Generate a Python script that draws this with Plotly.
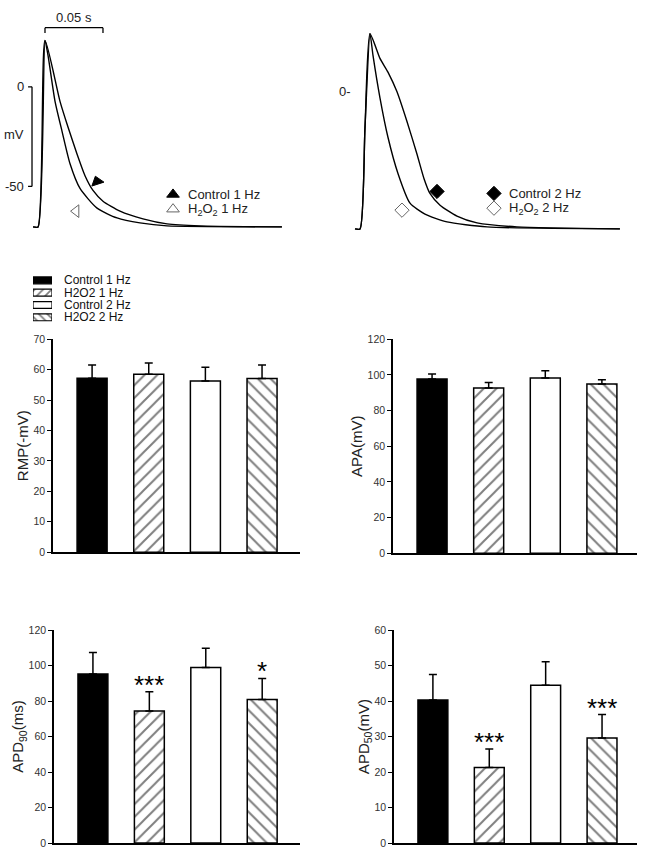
import plotly.graph_objects as go

W, H = 646, 855
FONT = "Arial, Liberation Sans, sans-serif"

# ---- action potential traces (t in ms, V in mV) ----
t_ctrl_1hz = [-4.3, 0, 6, 19, 25.9, 33.6, 40.5, 47.4, 56, 70.7, 90.5, 111.2, 139.7, 210.3]
v_ctrl_1hz = [-70.3, -70.3, 23.3, -7.4, -20.3, -33.7, -44.6, -52, -57.4, -62.4, -66.3, -68.8, -69.8, -70.3]
t_h2o2_1hz = [-4.3, 0, 6, 8.6, 14.7, 20.7, 27.6, 36.2, 50.9, 68.1, 87.9, 111.2, 210.3]
v_h2o2_1hz = [-70.3, -70.3, 23.3, 15.8, -7.4, -22.3, -38.6, -51, -60.9, -65.8, -68.3, -69.8, -70.3]

t_ctrl_2hz = [-4.3, 0, 4.3, 8.6, 17.2, 24.1, 31.9, 40.5, 49.1, 55.2, 60.3, 69, 83.6, 100.9, 135.3, 224.1]
v_ctrl_2hz = [-68.8, -68.8, -17.8, 29.2, 16.8, 9.9, 0, -14.9, -31.2, -43.6, -51, -56.9, -62.4, -65.8, -67.8, -68.8]
t_h2o2_2hz = [-4.3, 0, 4.3, 8.6, 11.2, 17.2, 24.1, 32.8, 43.1, 56, 75, 109.5, 224.1]
v_h2o2_2hz = [-68.8, -68.8, -17.8, 29.2, 18.3, -3, -22.8, -41.1, -55.9, -61.4, -65.3, -67.8, -68.8]

# ---- bar data: mean and SEM ----
groups = ["Control 1 Hz", "H2O2 1 Hz", "Control 2 Hz", "H2O2 2 Hz"]
rmp_mean = [57.2, 58.5, 56.3, 57.1]
rmp_sem = [4.3, 3.7, 4.5, 4.4]
apa_mean = [97.7, 92.7, 98.3, 94.9]
apa_sem = [2.8, 3.1, 4.0, 2.4]
apd90_mean = [95.3, 74.4, 98.9, 80.9]
apd90_sem = [12.1, 10.9, 10.9, 11.9]
apd50_mean = [40.3, 21.3, 44.5, 29.6]
apd50_sem = [7.2, 5.2, 6.6, 6.6]
apd90_stars = ["", "***", "", "*"]
apd50_stars = ["", "***", "", "***"]


def fx(p):
    return p / W


def fy(p):
    return 1 - p / H


fig = go.Figure()

# traces
line = dict(color="black", width=1.4, shape="spline", smoothing=0.6)
for t, v, ax in [(t_ctrl_1hz, v_ctrl_1hz, ("x", "y")), (t_h2o2_1hz, v_h2o2_1hz, ("x", "y")),
                 (t_ctrl_2hz, v_ctrl_2hz, ("x2", "y2")), (t_h2o2_2hz, v_h2o2_2hz, ("x2", "y2"))]:
    fig.add_trace(go.Scatter(x=t, y=v, mode="lines", line=line, xaxis=ax[0], yaxis=ax[1],
                             showlegend=False, hoverinfo="skip"))

# markers on curves + little legends
mk = [
    # x, y, symbol, color, angle, axis, label
    (50.9, -47.5, "triangle-up", "black", -18, ("x", "y"), None),
    (32.8, -62.4, "triangle-left-open", "#666", 0, ("x", "y"), None),
    (116.4, -54.0, "triangle-up", "black", 0, ("x", "y"), "Control 1 Hz"),
    (116.4, -61.4, "triangle-up-open", "#666", 0, ("x", "y"), "H<sub>2</sub>O<sub>2</sub> 1 Hz"),
    (66.4, -50.0, "diamond", "black", 0, ("x2", "y2"), None),
    (36.2, -59.4, "diamond-open", "#666", 0, ("x2", "y2"), None),
    (115.5, -51.0, "diamond", "black", 0, ("x2", "y2"), "Control 2 Hz"),
    (115.5, -58.4, "diamond-open", "#666", 0, ("x2", "y2"), "H<sub>2</sub>O<sub>2</sub> 2 Hz"),
]
for x, y, sym, col, ang, ax, lab in mk:
    fig.add_trace(go.Scatter(x=[x], y=[y], mode="markers", xaxis=ax[0], yaxis=ax[1],
                             marker=dict(symbol=sym, size=11, color=col, angle=ang, line=dict(width=1, color=col)),
                             showlegend=False, hoverinfo="skip"))
    if lab:
        fig.add_annotation(x=x + 11.2, y=y, xref=ax[0], yref=ax[1], text=lab, showarrow=False,
                           xanchor="left", font=dict(size=13, color="#222", family=FONT))

# scale bars (left panel)
shp = dict(type="line", xref="x", yref="y", line=dict(color="black", width=1.3))
fig.add_shape(x0=6, x1=56, y0=29.7, y1=29.7, **shp)
fig.add_shape(x0=6, x1=6, y0=29.7, y1=27.0, **shp)
fig.add_shape(x0=56, x1=56, y0=29.7, y1=27.0, **shp)
fig.add_shape(x0=-5.2, x1=-5.2, y0=0, y1=-50, **shp)
fig.add_shape(x0=-8.6, x1=-5.2, y0=0, y1=0, **shp)
fig.add_shape(x0=-8.6, x1=-5.2, y0=-50, y1=-50, **shp)
txt = dict(showarrow=False, font=dict(size=13, color="#222", family=FONT))
fig.add_annotation(x=31, y=29.7, xref="x", yref="y", text="0.05 s", yanchor="bottom", yshift=1, **txt)
fig.add_annotation(x=-10, y=0, xref="x", yref="y", text="0", xanchor="right", **txt)
fig.add_annotation(x=-10, y=-50, xref="x", yref="y", text="-50", xanchor="right", **txt)
fig.add_annotation(x=-10, y=-23.8, xref="x", yref="y", text="mV", xanchor="right", **txt)
fig.add_annotation(x=-6, y=0, xref="x2", yref="y2", text="0-", xanchor="right", **txt)

# bar panels
styles = [
    dict(color="black", pattern=dict(shape="")),
    dict(color="white", pattern=dict(shape="/", fgcolor="black", bgcolor="white", size=9, solidity=0.22)),
    dict(color="white", pattern=dict(shape="")),
    dict(color="white", pattern=dict(shape="\\", fgcolor="black", bgcolor="white", size=9, solidity=0.22)),
]
panels = [
    (rmp_mean, rmp_sem, "x3", "y3", None),
    (apa_mean, apa_sem, "x4", "y4", None),
    (apd90_mean, apd90_sem, "x5", "y5", apd90_stars),
    (apd50_mean, apd50_sem, "x6", "y6", apd50_stars),
]
for mean, sem, xa, ya, stars in panels:
    for i, g in enumerate(groups):
        st = styles[i]
        fig.add_trace(go.Bar(
            x=[g], y=[mean[i]], xaxis=xa, yaxis=ya, width=0.53, name=g, showlegend=False,
            marker=dict(color=st["color"], pattern=st["pattern"], line=dict(color="black", width=1.5)),
            error_y=dict(type="data", array=[sem[i]], arrayminus=[0], symmetric=False,
                         color="black", thickness=1.5, width=4),
        ))
        if stars and stars[i]:
            fig.add_annotation(x=g, y=mean[i] + sem[i], xref=xa, yref=ya, text=stars[i],
                               showarrow=False, yanchor="bottom", yshift=-10,
                               font=dict(size=26, color="black", family=FONT))

# legend key for the bar panels (small swatches on a hidden axis)
for i, g in enumerate(groups):
    st = styles[i]
    pat = dict(st["pattern"])
    if pat["shape"]:
        pat.update(size=6, solidity=0.3)
    fig.add_trace(go.Bar(
        x=[1], y=[g], orientation="h", xaxis="x7", yaxis="y7", width=0.56, showlegend=False,
        marker=dict(color=st["color"], pattern=pat, line=dict(color="black", width=1.2)),
        hoverinfo="skip",
    ))
    fig.add_annotation(x=fx(62), y=g, xref="paper", yref="y7", text=g, showarrow=False,
                       xanchor="left", font=dict(size=12, color="#111", family=FONT))

hidden = dict(visible=False, fixedrange=True)
fig.update_layout(
    width=W, height=H, margin=dict(l=0, r=0, t=0, b=0),
    paper_bgcolor="white", plot_bgcolor="white",
    barmode="overlay", font=dict(family=FONT, color="#222"), showlegend=False,
    xaxis=dict(domain=[0, fx(300)], range=[-32.8, 225.9], **hidden),
    yaxis=dict(domain=[fy(240), 1], range=[-78.2, 40.6], **hidden),
    xaxis2=dict(domain=[fx(320), 1], range=[-34.5, 246.6], **hidden),
    yaxis2=dict(domain=[fy(240), 1], range=[-75.7, 43.1], **hidden),
    xaxis7=dict(domain=[fx(33), fx(52)], range=[0, 1], anchor="y7", **hidden),
    yaxis7=dict(domain=[fy(322), fy(272)], type="category", categoryarray=groups, range=[3.5, -0.5],
                anchor="x7", **hidden),
)

xbar = dict(type="category", showline=True, linecolor="black", linewidth=1.5, ticks="",
            showticklabels=False, showgrid=False, zeroline=False, fixedrange=True)
ybar = dict(showline=True, linecolor="black", linewidth=1.5, ticks="outside", ticklen=4,
            tickwidth=1, tickcolor="black", showgrid=False, zeroline=False,
            tickfont=dict(size=10.5, color="#333", family=FONT),
            title_font=dict(size=15, color="#222", family=FONT), title_standoff=1, fixedrange=True)

fig.update_layout(
    xaxis3=dict(domain=[fx(53), fx(300)], range=[-0.69, 3.67], anchor="y3", **xbar),
    yaxis3=dict(domain=[fy(554), fy(338)], range=[0, 70], dtick=10, anchor="x3", title_text="RMP(-mV)", **ybar),
    xaxis4=dict(domain=[fx(393), fx(637)], range=[-0.69, 3.62], anchor="y4", **xbar),
    yaxis4=dict(domain=[fy(555), fy(338)], range=[0, 120], dtick=20, anchor="x4", title_text="APA(mV)", **ybar),
    xaxis5=dict(domain=[fx(54), fx(300)], range=[-0.69, 3.67], anchor="y5", **xbar),
    yaxis5=dict(domain=[fy(849), fy(633)], range=[0, 120], dtick=20, anchor="x5",
                title_text="APD<sub>90</sub>(ms)", **ybar),
    xaxis6=dict(domain=[fx(394), fx(637)], range=[-0.69, 3.62], anchor="y6", **xbar),
    yaxis6=dict(domain=[fy(849), fy(633)], range=[0, 60], dtick=10, anchor="x6",
                title_text="APD<sub>50</sub>(mV)", **ybar),
)

# browser default body margin would push the figure 8px right/down
fig.write_html("out.html", config={"displayModeBar": False},
               post_script="document.body.style.margin='0';")
